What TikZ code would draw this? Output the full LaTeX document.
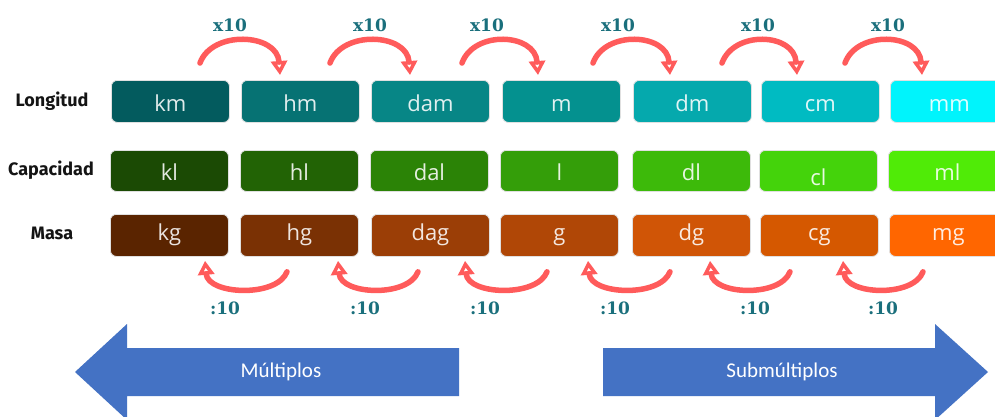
\documentclass[tikz,border=0pt]{standalone}
\usepackage{fontspec}
\setmainfont{Open Sans}
\newfontfamily\rowfont{Fira Sans}
\newfontfamily\numfont{DejaVu Serif}
\newfontfamily\bigfont{Carlito}
\usetikzlibrary{arrows.meta,calc}
% Longitud
\definecolor{cL1}{HTML}{035B5E}
\definecolor{cL2}{HTML}{067273}
\definecolor{cL3}{HTML}{078686}
\definecolor{cL4}{HTML}{04918F}
\definecolor{cL5}{HTML}{05A9AD}
\definecolor{cL6}{HTML}{00BBC2}
\definecolor{cL7}{HTML}{00F4FC}
% Capacidad
\definecolor{cC1}{HTML}{1B4A04}
\definecolor{cC2}{HTML}{226305}
\definecolor{cC3}{HTML}{2B8306}
\definecolor{cC4}{HTML}{349E09}
\definecolor{cC5}{HTML}{3DBA0A}
\definecolor{cC6}{HTML}{44D30B}
\definecolor{cC7}{HTML}{50EB07}
% Masa
\definecolor{cM1}{HTML}{5A2400}
\definecolor{cM2}{HTML}{7A3104}
\definecolor{cM3}{HTML}{9B3E06}
\definecolor{cM4}{HTML}{B04706}
\definecolor{cM5}{HTML}{D05506}
\definecolor{cM6}{HTML}{D55800}
\definecolor{cM7}{HTML}{FF6600}
\definecolor{arrred}{HTML}{FF5B5B}
\definecolor{numteal}{HTML}{1A6F7C}
\definecolor{bigblue}{HTML}{4472C4}
\begin{document}
\begin{tikzpicture}[x=1pt,y=-1pt,
  unit/.style={rounded corners=6pt, minimum width=118pt, inner sep=0pt,
    draw=black!12, line width=0.8pt, text=white, text opacity=0.88,
    font=\fontsize{22}{22}\selectfont, anchor=north west},
  lrow/.style={unit, minimum height=42pt, text height=20pt, text depth=0pt},
  crow/.style={unit, minimum height=41pt, text height=19pt, text depth=0pt},
  mrow/.style={unit, minimum height=42pt, text height=15pt, text depth=5pt},
  rowlab/.style={font=\rowfont\bfseries\fontsize{18}{18}\selectfont, text=black!92, inner sep=0pt},
  numlab/.style={font=\numfont\bfseries\fontsize{17}{17}\selectfont, text=numteal, inner sep=0pt},
  conv/.style={draw=arrred, line width=5.5pt, line cap=round,
    -{Triangle[open,length=14pt,width=16pt,line width=3.5pt]}},
  bigarrow/.style={fill=bigblue, draw=none},
  biglab/.style={font=\bigfont\fontsize{21}{21}\selectfont, text=white, inner sep=0pt}
]
\clip (0,0) rectangle (995,416);
\useasboundingbox (0,0) rectangle (995,416);
\fill[white] (0,0) rectangle (995,416);

% row labels
\node[rowlab] (labL) at (52,101) {Longitud};
\node[rowlab] (labC) at (51,170) {Capacidad};
\node[rowlab] (labM) at (52,233) {Masa};

% Longitud row
\foreach \i/\x/\t in {1/111/km,2/241/hm,3/371/dam,4/502/m,5/633/dm,6/761/cm,7/890/mm}
  \node[lrow, fill=cL\i] (L\i) at (\x,80) {\t};
% Capacidad row
\foreach \i/\x/\t in {1/110/kl,2/240/hl,3/370/dal,4/500/l,5/632/dl,7/888/ml}
  \node[crow, fill=cC\i] (C\i) at (\x,150) {\t};
\node[crow, fill=cC6, text height=29pt] (C6) at (759,150) {cl};
% Masa row
\foreach \i/\x/\t in {1/110/kg,2/240/hg,3/371/dag,4/500/g,5/632/dg,6/760/cg,7/889/mg}
  \node[mrow, fill=cM\i] (M\i) at (\x,214) {\t};

% top arrows x10
\foreach \i/\j/\sd/\td/\lx in {1/2/89/39/230,2/3/89/39/370,3/4/91/36/487,4/5/91/37/618,5/6/89/36/758,6/7/84/32/888}{
  \coordinate (s\i) at ($(L\i.north west)+(\sd,-17)$);
  \coordinate (t\i) at ($(L\j.north west)+(\td,-5)$);
  \draw[conv] (s\i) .. controls ($(s\i)+(12,-33)$) and ($(t\i)+(-3,-42)$) .. (t\i);
  \node[numlab] (x\i) at (\lx,25) {x10};
}

% bottom arrows :10
\foreach \i/\j/\hd/\td/\lx in {1/2/95/47/225,2/3/98/47/365,3/4/94/47/485,4/5/88/38/615,5/6/78/30/755,6/7/83/34/883}{
  \coordinate (h\i) at ($(M\i.south west)+(\hd,4)$);
  \coordinate (u\i) at ($(M\j.south west)+(\td,15)$);
  \draw[conv] (u\i) .. controls ($(u\i)+(-10,26)$) and ($(h\i)+(3,34)$) .. (h\i);
  \node[numlab] (d\i) at (\lx,308) {:10};
}

% big arrows
\path[bigarrow] (75,372) -- (127,324) -- (127,348) -- (459,348) -- (459,396) -- (127,396) -- (127,420) -- cycle;
\node[biglab] (mult) at (281,372) {Múltiplos};
\path[bigarrow] (988,372) -- (935,324) -- (935,348) -- (603,348) -- (603,396) -- (935,396) -- (935,420) -- cycle;
\node[biglab] (sub) at (782,372) {Submúltiplos};
\end{tikzpicture}
\end{document}
